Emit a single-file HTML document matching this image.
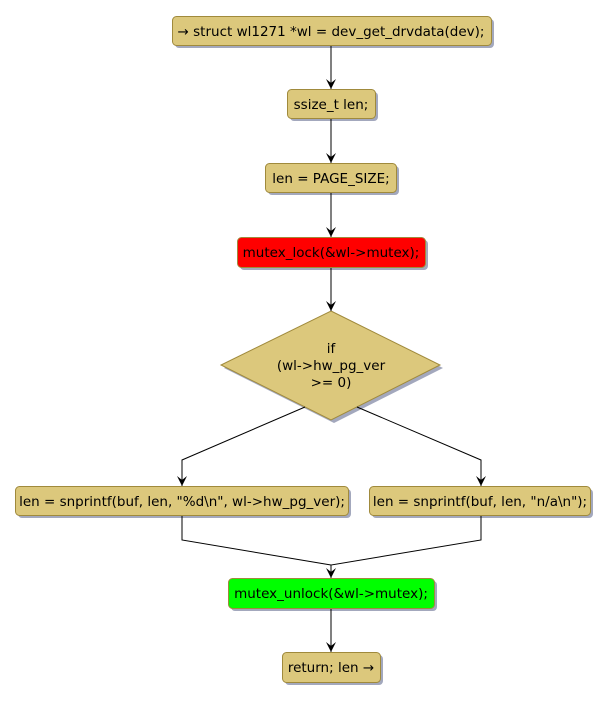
<!DOCTYPE html>
<html><head><style>html,body{margin:0;padding:0;background:#fff}svg{display:block}text{font-family:"DejaVu Sans","Liberation Sans",sans-serif;font-size:13.5px;fill:#000}</style></head><body>
<svg width="609" height="701" viewBox="0 0 609 701" xmlns="http://www.w3.org/2000/svg">
<defs>
<marker id="a" markerWidth="12" markerHeight="12" refX="10" refY="5" orient="auto" markerUnits="userSpaceOnUse"><path d="M0,0 L10,5 L0,10 L4,5 Z" fill="#000"/></marker>
</defs>
<g fill="#a3a8bd">
<rect x="175" y="19" width="319" height="29" rx="4"/>
<rect x="290" y="92" width="88" height="29" rx="4"/>
<rect x="268" y="166" width="131" height="29" rx="4"/>
<rect x="240" y="240" width="188" height="30" rx="4"/>
<polygon points="334,314 443,368 334,423 224,368"/>
<rect x="18" y="489" width="333" height="29" rx="4"/>
<rect x="372" y="489" width="221" height="29" rx="4"/>
<rect x="231" y="581" width="206" height="30" rx="4"/>
<rect x="285" y="655" width="98" height="30" rx="4"/>
</g>
<g stroke="#a08a3c" stroke-width="1" fill="#dcc87c">
<rect x="172.5" y="16.5" width="319" height="29" rx="4"/>
<rect x="287.5" y="89.5" width="88" height="29" rx="4"/>
<rect x="265.5" y="163.5" width="131" height="29" rx="4"/>
<rect x="237.5" y="237.5" width="188" height="30" rx="4" fill="#ff0000"/>
<polygon points="331,311 440,365 331,420 221,365"/>
<rect x="15.5" y="486.5" width="333" height="29" rx="4"/>
<rect x="369.5" y="486.5" width="221" height="29" rx="4"/>
<rect x="228.5" y="578.5" width="206" height="30" rx="4" fill="#00ff00"/>
<rect x="282.5" y="652.5" width="98" height="30" rx="4"/>
</g>
<g stroke="#000" stroke-width="1" fill="none">
<line x1="331" y1="46" x2="331" y2="89" marker-end="url(#a)"/>
<line x1="331" y1="119" x2="331" y2="163" marker-end="url(#a)"/>
<line x1="331" y1="193" x2="331" y2="237" marker-end="url(#a)"/>
<line x1="331" y1="268" x2="331" y2="311" marker-end="url(#a)"/>
<polyline points="305,407 182,460 182,486" marker-end="url(#a)"/>
<polyline points="357,407 481,460 481,486" marker-end="url(#a)"/>
<polyline points="182,516 182,540 331,565"/>
<polyline points="481,516 481,540 331,565 331,578" marker-end="url(#a)"/>
<line x1="331" y1="609" x2="331" y2="652" marker-end="url(#a)"/>
</g>
<g text-anchor="middle">
<text x="331" y="36">→ struct wl1271 *wl = dev_get_drvdata(dev);</text>
<text x="331" y="109">ssize_t len;</text>
<text x="331" y="183">len = PAGE_SIZE;</text>
<text x="331" y="257">mutex_lock(&amp;wl-&gt;mutex);</text>
<text x="331" y="353">if</text>
<text x="331" y="370">(wl-&gt;hw_pg_ver</text>
<text x="331" y="387">&gt;= 0)</text>
<text x="182" y="506">len = snprintf(buf, len, "%d\n", wl-&gt;hw_pg_ver);</text>
<text x="480" y="506">len = snprintf(buf, len, "n/a\n");</text>
<text x="331" y="598">mutex_unlock(&amp;wl-&gt;mutex);</text>
<text x="331" y="672">return; len →</text>
</g>
</svg>
</body></html>
